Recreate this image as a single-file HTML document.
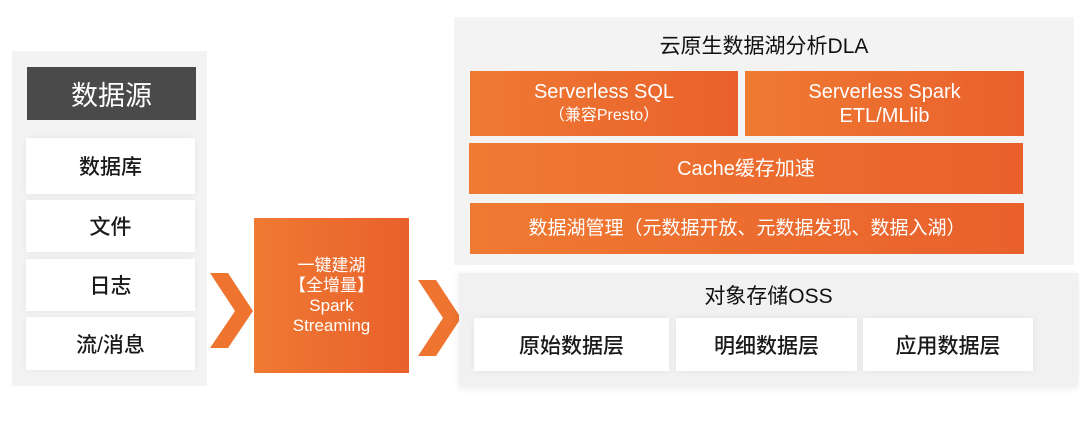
<!DOCTYPE html>
<html><head><meta charset="utf-8"><style>
body{margin:0;width:1080px;height:425px;background:#fff;position:relative;overflow:hidden;font-family:"Liberation Sans","Noto Sans CJK SC",sans-serif}
div{position:absolute;box-sizing:border-box;display:flex;align-items:center;justify-content:center;text-align:center}
.w{background:#fff;color:#1a1a1a;font-size:21px;font-weight:500;box-shadow:0 0 6px rgba(0,0,0,.06)}
.o{background:linear-gradient(90deg,#ef7a32,#e9602c);color:#fff;font-size:20px;line-height:24px;flex-direction:column}
</style></head><body>
<div style="left:12px;top:51px;width:195px;height:335px;background:#f3f3f3"></div>
<div style="left:27px;top:67px;width:169px;height:53px;background:#4a4a4a;color:#fff;font-size:27px">数据源</div>
<div class="w" style="left:26px;top:138px;width:169px;height:56px">数据库</div>
<div class="w" style="left:26px;top:200px;width:169px;height:52px">文件</div>
<div class="w" style="left:26px;top:259px;width:169px;height:52px">日志</div>
<div class="w" style="left:26px;top:317px;width:169px;height:53px">流/消息</div>
<svg style="position:absolute;left:0;top:0" width="1080" height="425">
<polygon points="210,273 228,273 253,311 228,348 210,348 235,311" fill="#ee742f"/>
<polygon points="418,280 436,280 461,318 436,356 418,356 443,318" fill="#ee742f"/>
</svg>
<div class="o" style="left:254px;top:218px;width:155px;height:155px;font-size:17px;line-height:20px">一键建湖<br>【全增量】<br>Spark<br>Streaming</div>
<div style="left:454px;top:17px;width:620px;height:248px;background:#f3f3f3"></div>
<div style="left:454px;top:30px;width:620px;height:30px;font-size:21px;color:#111">云原生数据湖分析DLA</div>
<div class="o" style="left:470px;top:71px;width:268px;height:65px"><span>Serverless SQL</span><span style="font-size:16px">（兼容Presto）</span></div>
<div class="o" style="left:745px;top:71px;width:279px;height:65px"><span>Serverless Spark</span><span>ETL/MLlib</span></div>
<div class="o" style="left:469px;top:143px;width:554px;height:51px">Cache缓存加速</div>
<div class="o" style="left:470px;top:203px;width:554px;height:51px;font-size:19px">数据湖管理（元数据开放、元数据发现、数据入湖）</div>
<div style="left:459px;top:273px;width:619px;height:113px;background:#f1f1f1;box-shadow:0 2px 8px rgba(0,0,0,.08)"></div>
<div style="left:459px;top:281px;width:619px;height:28px;font-size:21px;color:#111">对象存储OSS</div>
<div class="w" style="left:474px;top:318px;width:195px;height:53px">原始数据层</div>
<div class="w" style="left:676px;top:318px;width:181px;height:53px">明细数据层</div>
<div class="w" style="left:863px;top:318px;width:170px;height:53px">应用数据层</div>
</body></html>
